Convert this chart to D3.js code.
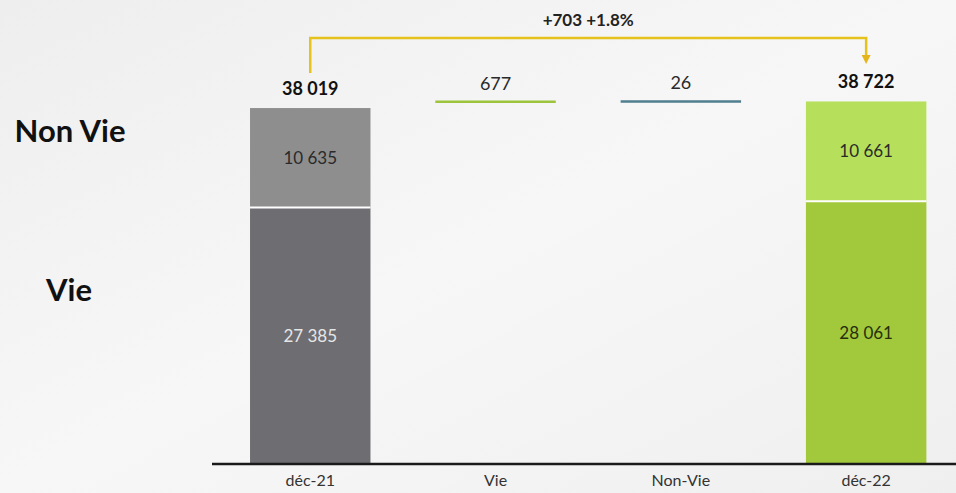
<!DOCTYPE html>
<html>
<head>
<meta charset="utf-8">
<script src="https://cdn.jsdelivr.net/npm/d3@7"></script>
<style>
  html, body { margin: 0; padding: 0; background: #f1f1f1; }
  svg { display: block; }
</style>
</head>
<body>
<svg id="chart" width="956" height="493"></svg>
<script>
// Categories along the axis
const categories = ["déc-21", "Vie", "Non-Vie", "déc-22"];
// Stacked opening and closing totals (Vie / Non Vie)
const vieValues = [27385, null, null, 28061];
const nonVieValues = [10635, null, null, 10661];
const totalValues = [38019, null, null, 38722];
// Waterfall variations
const deltaValues = [null, 677, 26, null];
const deltaLabels = ["", "677", "26", ""];
const totalLabels = ["38 019", "", "", "38 722"];
const vieLabels = ["27 385", "", "", "28 061"];
const nonVieLabels = ["10 635", "", "", "10 661"];
const bridgeLabel = "+703 +1.8%";
const legendLabels = ["Non Vie", "Vie"];

const svg = d3.select("#chart");
const W = 956, H = 493;

// soft background sheen
const defs = svg.append("defs");
const grad = defs.append("linearGradient").attr("id", "bg")
  .attr("x1", "0%").attr("y1", "0%").attr("x2", "100%").attr("y2", "100%");
grad.append("stop").attr("offset", "0%").attr("stop-color", "#eeeeee");
grad.append("stop").attr("offset", "50%").attr("stop-color", "#f7f7f7");
grad.append("stop").attr("offset", "100%").attr("stop-color", "#efefef");
svg.append("rect").attr("width", W).attr("height", H).attr("fill", "url(#bg)");

const x = d3.scaleBand().domain(categories)
  .range([217.6, 958.8]).paddingInner(0.35).paddingOuter(0.175);
const y = d3.scaleLinear().domain([0, 40000]).range([464, 89.5]);

const font = "Lato, 'Open Sans', sans-serif";
const colors = {
  vie: ["#6e6d72", null, null, "#a2c83b"],
  nonVie: ["#8e8e8e", null, null, "#b6e05b"],
  nonVieText: ["#2a2a2a", null, null, "#2a2a2a"],
  vieText: ["#e6e6e6", null, null, "#26300c"],
  delta: [null, "#9cc43c", "#4f7e8e", null]
};

const totals = categories.map((c, i) => ({ c, i })).filter(d => vieValues[d.i] != null);

// Vie segment
svg.selectAll("rect.vie").data(totals).join("rect")
  .attr("class", "vie")
  .attr("x", d => x(d.c)).attr("width", x.bandwidth())
  .attr("y", d => y(vieValues[d.i])).attr("height", d => y(0) - y(vieValues[d.i]))
  .attr("fill", d => colors.vie[d.i]);

// Non Vie segment stacked on top
svg.selectAll("rect.nonvie").data(totals).join("rect")
  .attr("class", "nonvie")
  .attr("x", d => x(d.c)).attr("width", x.bandwidth())
  .attr("y", d => y(vieValues[d.i] + nonVieValues[d.i]))
  .attr("height", d => y(vieValues[d.i]) - y(vieValues[d.i] + nonVieValues[d.i]))
  .attr("fill", d => colors.nonVie[d.i]);

// white separator between segments
svg.selectAll("line.sep").data(totals).join("line")
  .attr("class", "sep")
  .attr("x1", d => x(d.c)).attr("x2", d => x(d.c) + x.bandwidth())
  .attr("y1", d => y(vieValues[d.i])).attr("y2", d => y(vieValues[d.i]))
  .attr("stroke", "#ffffff").attr("stroke-width", 2);

// segment labels
svg.selectAll("text.nvl").data(totals).join("text")
  .attr("x", d => x(d.c) + x.bandwidth() / 2)
  .attr("y", d => (y(vieValues[d.i]) + y(vieValues[d.i] + nonVieValues[d.i])) / 2)
  .attr("dy", "0.35em").attr("text-anchor", "middle")
  .attr("font-family", font).attr("font-size", 17)
  .attr("fill", d => colors.nonVieText[d.i])
  .text(d => nonVieLabels[d.i]);

svg.selectAll("text.vl").data(totals).join("text")
  .attr("x", d => x(d.c) + x.bandwidth() / 2)
  .attr("y", d => (y(0) + y(vieValues[d.i])) / 2)
  .attr("dy", "0.35em").attr("text-anchor", "middle")
  .attr("font-family", font).attr("font-size", 17)
  .attr("fill", d => colors.vieText[d.i])
  .text(d => vieLabels[d.i]);

// total labels
svg.selectAll("text.tl").data(totals).join("text")
  .attr("x", d => x(d.c) + x.bandwidth() / 2)
  .attr("y", d => y(totalValues[d.i]) - 13)
  .attr("text-anchor", "middle")
  .attr("font-family", font).attr("font-size", 18).attr("font-weight", "bold")
  .attr("fill", "#111")
  .text(d => totalLabels[d.i]);

// waterfall steps drawn at the running level
let running = totalValues[0];
const steps = [];
categories.forEach((c, i) => {
  if (deltaValues[i] != null) {
    running += deltaValues[i];
    steps.push({ c, i, level: running });
  }
});

svg.selectAll("line.step").data(steps).join("line")
  .attr("x1", d => x(d.c)).attr("x2", d => x(d.c) + x.bandwidth())
  .attr("y1", d => y(d.level)).attr("y2", d => y(d.level))
  .attr("stroke", d => colors.delta[d.i]).attr("stroke-width", 2.5);

svg.selectAll("text.step").data(steps).join("text")
  .attr("x", d => x(d.c) + x.bandwidth() / 2)
  .attr("y", d => y(d.level) - 12)
  .attr("text-anchor", "middle")
  .attr("font-family", font).attr("font-size", 18)
  .attr("fill", "#2a2a2a")
  .text(d => deltaLabels[d.i]);

// bridge bracket from opening to closing total
const xa = x(categories[0]) + x.bandwidth() / 2;
const xb = x(categories[3]) + x.bandwidth() / 2;
const yTop = 38;
const bracket = d3.path();
bracket.moveTo(xa, 73); bracket.lineTo(xa, yTop);
bracket.lineTo(xb, yTop); bracket.lineTo(xb, 56);
svg.append("path").attr("d", bracket.toString())
  .attr("fill", "none").attr("stroke", "#e5c31c").attr("stroke-width", 2.5);
svg.append("path")
  .attr("d", `M${xb - 4.5},55 L${xb + 4.5},55 L${xb},64 Z`)
  .attr("fill", "#e5b51c");
svg.append("text")
  .attr("x", (xa + xb) / 2).attr("y", 26)
  .attr("text-anchor", "middle")
  .attr("font-family", font).attr("font-size", 17).attr("font-weight", "bold")
  .attr("fill", "#222")
  .text(bridgeLabel);

// axis
svg.append("line").attr("x1", 212).attr("x2", 956)
  .attr("y1", y(0)).attr("y2", y(0))
  .attr("stroke", "#1a1a1a").attr("stroke-width", 2.5);
const axis = svg.append("g").attr("transform", `translate(0,${y(0)})`)
  .call(d3.axisBottom(x).tickSize(0).tickPadding(11));
axis.select(".domain").remove();
axis.selectAll("text").attr("font-family", font).attr("font-size", 16).attr("fill", "#333");

// legend-style row labels
svg.append("text").attr("x", 70).attr("y", 131).attr("dy", "0.35em")
  .attr("text-anchor", "middle").attr("font-family", font)
  .attr("font-size", 31).attr("font-weight", "bold").attr("fill", "#111")
  .text(legendLabels[0]);
svg.append("text").attr("x", 69).attr("y", 290).attr("dy", "0.35em")
  .attr("text-anchor", "middle").attr("font-family", font)
  .attr("font-size", 31).attr("font-weight", "bold").attr("fill", "#111")
  .text(legendLabels[1]);
</script>
</body>
</html>
